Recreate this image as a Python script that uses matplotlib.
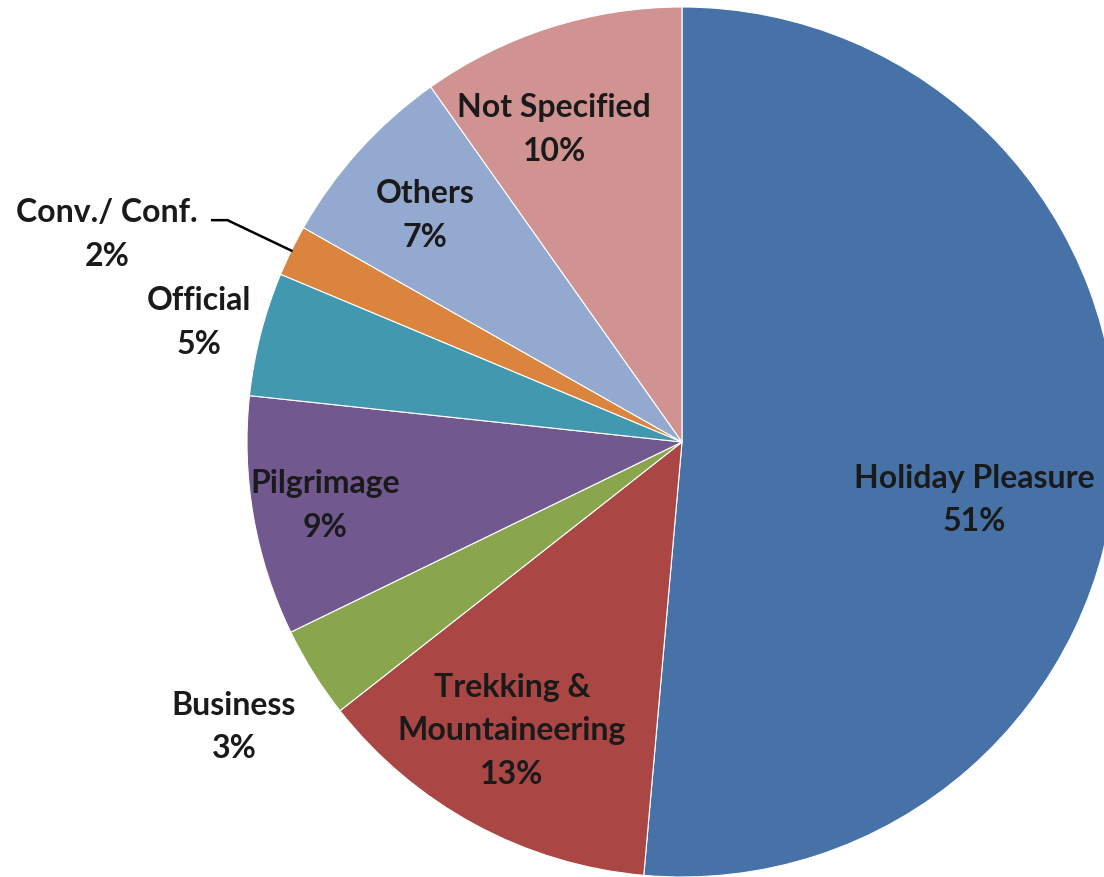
import numpy as np
import matplotlib.pyplot as plt

plt.rcParams["font.family"] = ["Lato", "DejaVu Sans"]

# purpose of visit shares, clockwise from 12 o'clock
categories = ["Holiday Pleasure", "Trekking &\nMountaineering", "Business", "Pilgrimage",
              "Official", "Conv./ Conf.", "Others", "Not Specified"]
shares = [51.4, 13.0, 3.4, 8.9, 4.6, 1.9, 7.0, 9.8]
pct_labels = ["51%", "13%", "3%", "9%", "5%", "2%", "7%", "10%"]

colors = ["#4672A8", "#AA4643", "#89A54E", "#71588F", "#4198AF", "#DB843D", "#93A9CF", "#D19392"]

# label centres in pie units (radius = 1, centre = 0,0)
label_pos = [(0.672, -0.131), (-0.391, -0.662), (-1.030, -0.653), (-0.821, -0.143),
             (-1.110, 0.278), (-1.322, 0.480), (-0.591, 0.524), (-0.294, 0.720)]

W, H = 1104, 878
cx, cy, r = 682, 443, 435

fig = plt.figure(figsize=(W / 100, H / 100), dpi=100)
ax = fig.add_axes([0, 0, 1, 1])

wedges, _ = ax.pie(shares, colors=colors, startangle=90, counterclock=False,
                   radius=1.0, wedgeprops=dict(edgecolor="white", linewidth=0.8))

ax.set_xlim(-cx / r, (W - cx) / r)
ax.set_ylim(-(H - cy) / r, cy / r)
ax.set_aspect("auto")
ax.axis("off")

for name, pct, (x, y) in zip(categories, pct_labels, label_pos):
    ax.text(x, y, f"{name}\n{pct}", ha="center", va="center", fontsize=23,
            fontweight="bold", color="#1a1a1a", linespacing=1.62)

# leader line for the small Conv./Conf. slice
w = wedges[5]
mid = np.deg2rad((w.theta1 + w.theta2) / 2)
ex, ey = np.cos(mid), np.sin(mid)
ax.plot([-1.080, -1.045, ex], [0.510, 0.510, ey], color="black", lw=1.8)

fig.savefig("out.png", dpi=100)
